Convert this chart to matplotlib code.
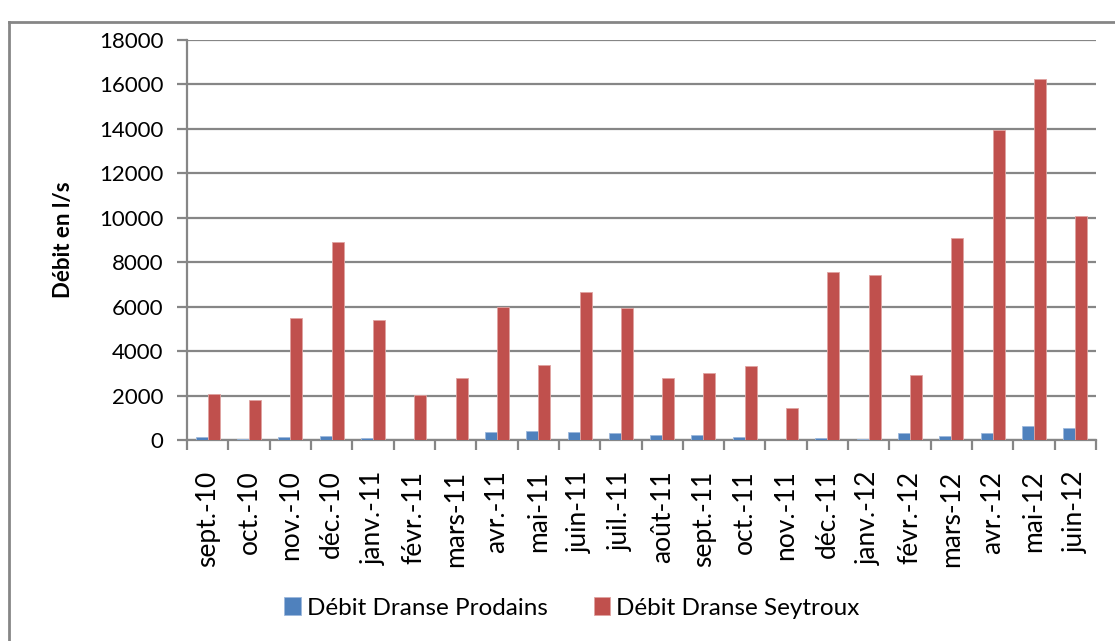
import matplotlib
matplotlib.use("Agg")
import matplotlib.pyplot as plt
from matplotlib.lines import Line2D
import numpy as np

months = ["sept.-10", "oct.-10", "nov.-10", "déc.-10", "janv.-11", "févr.-11",
          "mars-11", "avr.-11", "mai-11", "juin-11", "juil.-11", "août-11",
          "sept.-11", "oct.-11", "nov.-11", "déc.-11", "janv.-12", "févr.-12",
          "mars-12", "avr.-12", "mai-12", "juin-12"]

prodains = [140, 60, 150, 180, 105, 10, 15, 375, 390, 360, 330, 210,
            210, 150, 10, 75, 45, 330, 195, 330, 615, 555]

seytroux = [2080, 1800, 5490, 8900, 5400, 2040, 2800, 6000, 3380, 6650, 5950, 2800,
            3000, 3330, 1440, 7560, 7440, 2910, 9100, 13950, 16250, 10060]

yticks = list(range(0, 18001, 2000))

plt.rcParams["font.family"] = ["Lato", "DejaVu Sans"]

W, H = 1115, 641
fig = plt.figure(figsize=(W / 100, H / 100), dpi=100)
ax = fig.add_axes([187 / W, 1 - 440 / H, (1096 - 187) / W, 400 / H])

grey = "#868686"
x = np.arange(len(months))
bw = 0.29
ax.bar(x - bw / 2, prodains, bw, color="#4F81BD", edgecolor="#9DB9DC", linewidth=0.6,
       label="Débit Dranse Prodains", zorder=3)
ax.bar(x + bw / 2, seytroux, bw, color="#C0504D", edgecolor="#E0A3A1", linewidth=0.6,
       label="Débit Dranse Seytroux", zorder=3)

ax.set_xlim(-0.5, len(months) - 0.5)
ax.set_ylim(0, 18000)
ax.set_yticks(yticks)
ax.set_yticklabels([str(v) for v in yticks], fontsize=16)
ax.yaxis.grid(True, color=grey, linewidth=1.6, zorder=0)

ax.set_xticks(x)
ax.set_xticklabels(months, rotation=90, fontsize=19)
ax.tick_params(axis="x", which="major", length=0, pad=22)
ax.set_xticks(np.arange(-0.5, len(months) + 0.5, 1), minor=True)
ax.tick_params(axis="x", which="minor", length=7, width=1.6, color=grey, direction="out")
ax.tick_params(axis="y", length=7, width=1.6, color=grey, direction="out", pad=10)

for side in ("top", "right"):
    ax.spines[side].set_visible(False)
for side in ("left", "bottom"):
    ax.spines[side].set_color(grey)
    ax.spines[side].set_linewidth(1.6)

ax.set_ylabel("Débit en l/s", fontsize=16, fontweight="bold", labelpad=18)

handles, labels = ax.get_legend_handles_labels()
leg = fig.legend(handles, labels, loc="center", bbox_to_anchor=(572 / W, 1 - 608 / H),
                 ncol=2, frameon=False, fontsize=17.5, handlelength=0.68, handleheight=0.72,
                 handletextpad=0.25, columnspacing=1.9)

# outer chart frame
fig.add_artist(Line2D([9 / W, 9 / W], [0, 1 - 22 / H], transform=fig.transFigure,
                      color=grey, linewidth=2))
fig.add_artist(Line2D([9 / W, 1], [1 - 22 / H, 1 - 22 / H], transform=fig.transFigure,
                      color=grey, linewidth=2))

fig.savefig("out.png", dpi=100)
